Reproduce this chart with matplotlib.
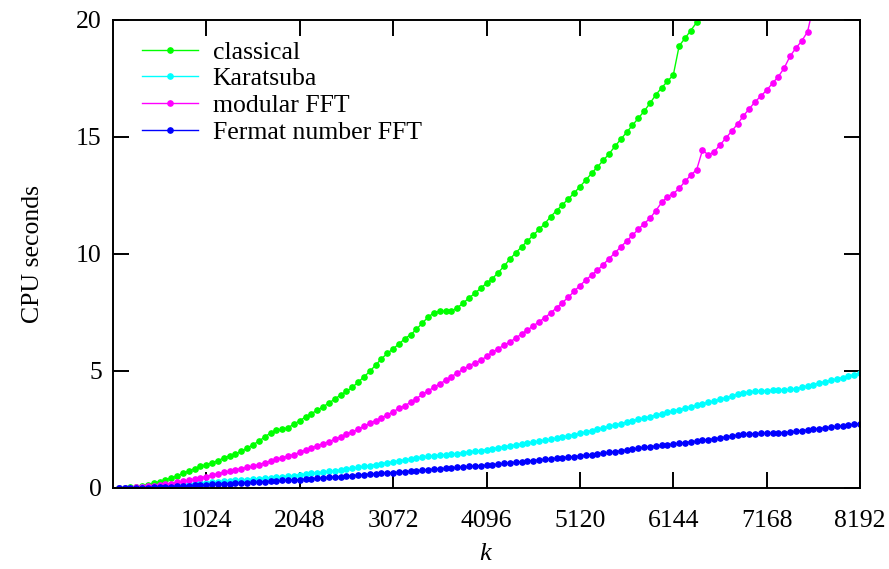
import numpy as np
import matplotlib
matplotlib.use('Agg')
import matplotlib.pyplot as plt

plt.rcParams['font.family'] = ['Liberation Serif', 'DejaVu Serif']
plt.rcParams['mathtext.fontset'] = 'custom'
plt.rcParams['mathtext.it'] = 'Liberation Serif:italic'

# k runs 64, 128, ..., 8192 (step 64)
k_step = 64

classical = [
    0.01, 0.02, 0.03, 0.05, 0.09, 0.14, 0.20, 0.27, 0.35, 0.43, 0.52, 0.62, 0.73, 0.83, 0.92, 1.00,
    1.08, 1.17, 1.28, 1.38, 1.46, 1.56, 1.70, 1.85, 2.00, 2.18, 2.35, 2.47, 2.50, 2.58, 2.72, 2.88,
    3.03, 3.18, 3.32, 3.47, 3.63, 3.80, 3.97, 4.13, 4.30, 4.52, 4.75, 4.98, 5.25, 5.52, 5.75, 5.95,
    6.15, 6.38, 6.55, 6.78, 7.05, 7.30, 7.49, 7.55, 7.56, 7.56, 7.70, 7.90, 8.12, 8.32, 8.53, 8.75,
    8.95, 9.20, 9.48, 9.78, 10.05, 10.30, 10.55, 10.80, 11.05, 11.30, 11.60, 11.85, 12.10, 12.35, 12.60, 12.88,
    13.15, 13.45, 13.72, 14.00, 14.28, 14.60, 14.90, 15.20, 15.50, 15.80, 16.10, 16.44, 16.80, 17.10, 17.38, 17.65,
    18.89, 19.22, 19.55, 19.90, 20.25, 20.60,
]

karatsuba = [
    0.00, 0.01, 0.01, 0.02, 0.03, 0.04, 0.05, 0.07, 0.08, 0.10, 0.12, 0.14, 0.16, 0.18, 0.20, 0.22,
    0.24, 0.26, 0.28, 0.30, 0.32, 0.34, 0.36, 0.38, 0.40, 0.42, 0.44, 0.46, 0.48, 0.50, 0.53, 0.56,
    0.59, 0.62, 0.65, 0.68, 0.71, 0.74, 0.77, 0.80, 0.84, 0.88, 0.92, 0.96, 1.00, 1.04, 1.08, 1.12,
    1.16, 1.20, 1.24, 1.28, 1.32, 1.36, 1.38, 1.40, 1.42, 1.44, 1.47, 1.51, 1.54, 1.57, 1.60, 1.64,
    1.68, 1.72, 1.76, 1.80, 1.84, 1.88, 1.92, 1.96, 2.00, 2.04, 2.08, 2.13, 2.18, 2.23, 2.28, 2.33,
    2.39, 2.45, 2.51, 2.57, 2.63, 2.69, 2.75, 2.81, 2.87, 2.93, 2.99, 3.05, 3.11, 3.17, 3.23, 3.29,
    3.35, 3.41, 3.47, 3.53, 3.60, 3.66, 3.72, 3.79, 3.86, 3.93, 4.00, 4.06, 4.10, 4.13, 4.15, 4.16,
    4.17, 4.18, 4.19, 4.21, 4.24, 4.30, 4.36, 4.42, 4.48, 4.54, 4.60, 4.66, 4.72, 4.78, 4.84, 4.90,
]

modular_fft = [
    0.00, 0.01, 0.02, 0.03, 0.05, 0.07, 0.09, 0.12, 0.15, 0.19, 0.24, 0.28, 0.33, 0.38, 0.43, 0.49,
    0.55, 0.61, 0.67, 0.72, 0.78, 0.83, 0.88, 0.93, 1.00, 1.08, 1.15, 1.22, 1.29, 1.36, 1.43, 1.52,
    1.62, 1.72, 1.80, 1.90, 1.98, 2.08, 2.18, 2.30, 2.40, 2.50, 2.63, 2.76, 2.88, 3.00, 3.12, 3.26,
    3.40, 3.52, 3.66, 3.82, 4.00, 4.15, 4.30, 4.45, 4.60, 4.76, 4.92, 5.07, 5.22, 5.35, 5.45, 5.62,
    5.80, 5.95, 6.10, 6.24, 6.40, 6.58, 6.75, 6.92, 7.10, 7.28, 7.48, 7.70, 7.92, 8.15, 8.40, 8.65,
    8.88, 9.10, 9.30, 9.55, 9.80, 10.05, 10.30, 10.55, 10.80, 11.05, 11.30, 11.52, 11.85, 12.20, 12.45, 12.58,
    12.80, 13.10, 13.37, 13.60, 14.44, 14.23, 14.37, 14.66, 14.95, 15.25, 15.55, 15.90, 16.20, 16.50, 16.75, 17.00,
    17.30, 17.58, 17.95, 18.45, 18.80, 19.10, 19.50, 20.60, 21.10,
]

fermat_fft = [
    0.00, 0.00, 0.01, 0.01, 0.02, 0.02, 0.03, 0.04, 0.05, 0.06, 0.07, 0.08, 0.10, 0.11, 0.12, 0.14,
    0.15, 0.16, 0.18, 0.19, 0.20, 0.22, 0.23, 0.24, 0.26, 0.27, 0.29, 0.30, 0.32, 0.33, 0.35, 0.36,
    0.38, 0.40, 0.41, 0.43, 0.45, 0.47, 0.49, 0.51, 0.53, 0.55, 0.57, 0.59, 0.61, 0.63, 0.64, 0.66,
    0.68, 0.70, 0.72, 0.74, 0.76, 0.78, 0.80, 0.82, 0.84, 0.86, 0.88, 0.90, 0.92, 0.94, 0.96, 0.97,
    1.00, 1.02, 1.05, 1.07, 1.10, 1.12, 1.15, 1.17, 1.20, 1.22, 1.25, 1.27, 1.30, 1.32, 1.34, 1.37,
    1.40, 1.43, 1.46, 1.49, 1.52, 1.55, 1.59, 1.62, 1.66, 1.70, 1.73, 1.76, 1.79, 1.82, 1.85, 1.88,
    1.91, 1.94, 1.97, 2.00, 2.04, 2.07, 2.10, 2.14, 2.18, 2.22, 2.26, 2.29, 2.31, 2.32, 2.33, 2.34,
    2.35, 2.36, 2.37, 2.39, 2.42, 2.45, 2.48, 2.51, 2.54, 2.57, 2.60, 2.63, 2.66, 2.69, 2.72, 2.75,
]

series = [
    ('classical', classical, '#00ff00'),
    ('Karatsuba', karatsuba, '#00ffff'),
    ('modular FFT', modular_fft, '#ff00ff'),
    ('Fermat number FFT', fermat_fft, '#0000ff'),
]

x_ticks = [1024, 2048, 3072, 4096, 5120, 6144, 7168, 8192]
y_ticks = [0, 5, 10, 15, 20]

fig = plt.figure(figsize=(8.89, 5.69), dpi=100)
ax = fig.add_axes([0.127, 0.1424, 0.8405, 0.8225])

for name, vals, col in series:
    k = k_step * np.arange(1, len(vals) + 1)
    ax.plot(k, vals, color=col, lw=1.0, marker='o', ms=3.8, mec=col, mfc=col, label=name)

ax.set_xlim(0, 8192)
ax.set_ylim(0, 20)
ax.set_xticks(x_ticks)
ax.set_yticks(y_ticks)
ax.tick_params(direction='in', length=11.5, width=1.4, top=True, right=True,
               labelsize=18.5)
ax.tick_params(axis='x', pad=16)
ax.tick_params(axis='y', pad=8)
for s in ax.spines.values():
    s.set_linewidth(1.4)

ax.set_xlabel(r'$k$', fontsize=19, labelpad=8)
ax.set_ylabel('CPU seconds', fontsize=18.5, labelpad=23)

ax.legend(loc='upper left', frameon=False, fontsize=18.5, numpoints=1,
          handlelength=2.2, handletextpad=0.55, labelspacing=0.15,
          borderaxespad=0.0, bbox_to_anchor=(0.025, 0.978))

fig.savefig('out.png', dpi=100)
